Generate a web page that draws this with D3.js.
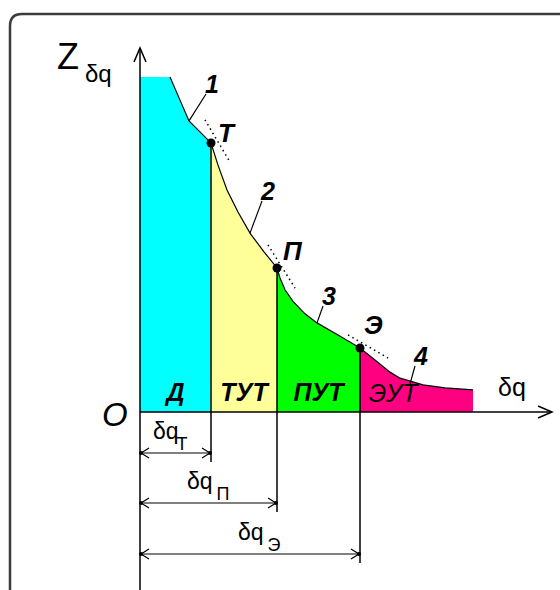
<!DOCTYPE html>
<html>
<head>
<meta charset="utf-8">
<script src="https://cdn.jsdelivr.net/npm/d3@7"></script>
<style>
  body { margin: 0; background: #fff; }
  text { font-family: "Liberation Sans", Arial, sans-serif; fill: #000; }
  .big { font-size: 25px; font-weight: bold; font-style: italic; }
</style>
</head>
<body>
<svg id="svg" width="560" height="590"></svg>
<script>
// curve of Z(dq) (dq 0..100, Z 0..100)
const qPts = [0, 7.5, 10, 12.25, 15, 17.75, 19.5, 21.75, 24.5, 27.5, 31, 34.25,
  35, 36.25, 38.25, 41.25, 44.25, 49.5, 55, 58.75, 62.5, 65, 70.75, 76.25, 83.25];
const zPts = [100, 100, 93.1, 86.9, 83.6, 80.3, 73.7, 66.3, 59.7, 53.4, 47.8, 43.0,
  40.0, 36.5, 33.0, 29.3, 26.6, 23.0, 19.1, 15.5, 11.9, 10.1, 8.1, 7.2, 6.6];

// zone borders: Д | ТУТ | ПУТ | ЭУТ
const zoneBounds = [0, 17.75, 34.25, 55, 83.25];
const zoneNames = ['Д', 'ТУТ', 'ПУТ', 'ЭУТ'];
const zoneColors = ['#00ffff', '#ffff99', '#00ff00', '#ff0080'];

// points T, П, Э
const pointNames = ['Т', 'П', 'Э'];
const pointQ = [17.75, 34.25, 55];
const pointZ = [80.3, 43.0, 19.1];

// dotted tangents near the points [q1, z1, q2, z2]
const tangents = [[16.25, 87.2, 22.5, 74.6], [32, 49.9, 38.75, 37.0], [52, 23.0, 62, 16.1]];
// curve segment numbers and the point each leader starts at
const segNames = ['1', '2', '3', '4'];
const segQ = [12.25, 27.5, 44.25, 67.5];
const segZ = [86.9, 53.4, 26.6, 8.4];

const svg = d3.select('#svg');
const x = d3.scaleLinear().domain([0, 100]).range([140, 540]);
const y = d3.scaleLinear().domain([0, 100]).range([412, 77]);

const data = qPts.map((q, i) => ({ q: q, z: zPts[i] }));

// frame with rounded corner
svg.append('path')
  .attr('d', 'M10,590 L10,26 Q10,14 22,14 L562,14')
  .attr('fill', 'none').attr('stroke', '#3c3c3c').attr('stroke-width', 2.5);

// zone fills
const area = d3.area().x(d => x(d.q)).y0(y(0)).y1(d => y(d.z));
const zAt = q => {
  const i = d3.bisectLeft(qPts, q);
  if (qPts[i] === q) return zPts[i];
  const t = (q - qPts[i - 1]) / (qPts[i] - qPts[i - 1]);
  return zPts[i - 1] + t * (zPts[i] - zPts[i - 1]);
};
zoneNames.forEach((n, i) => {
  const a = zoneBounds[i], b = zoneBounds[i + 1];
  const pts = [{ q: a, z: zAt(a) }].concat(data.filter(d => d.q > a && d.q < b), [{ q: b, z: zAt(b) }]);
  svg.append('path').attr('d', area(pts)).attr('fill', zoneColors[i]);
});

// curve (not over the flat top)
const line = d3.line().x(d => x(d.q)).y(d => y(d.z));
svg.append('path').attr('d', line(data.slice(1)))
  .attr('fill', 'none').attr('stroke', '#000').attr('stroke-width', 1.2);

// dotted tangents
tangents.forEach(t => {
  svg.append('line')
    .attr('x1', x(t[0])).attr('y1', y(t[1])).attr('x2', x(t[2])).attr('y2', y(t[3]))
    .attr('stroke', '#000').attr('stroke-width', 1.5).attr('stroke-dasharray', '1.5,3.5');
});

// axes
svg.append('line').attr('x1', x(0)).attr('x2', x(0)).attr('y1', 48).attr('y2', 590)
  .attr('stroke', '#000').attr('stroke-width', 1.5);
svg.append('line').attr('x1', x(0)).attr('x2', 552).attr('y1', y(0)).attr('y2', y(0))
  .attr('stroke', '#000').attr('stroke-width', 1.5);
svg.append('path').attr('d', `M${x(0) - 6},62 L${x(0)},48 L${x(0) + 6},62`)
  .attr('fill', 'none').attr('stroke', '#000').attr('stroke-width', 1.5);
svg.append('path').attr('d', `M538,${y(0) - 6} L552,${y(0)} L538,${y(0) + 6}`)
  .attr('fill', 'none').attr('stroke', '#000').attr('stroke-width', 1.5);

// dimension lines under the axis
const dimY = [453, 503, 554];
const dimSub = ['Т', 'П', 'Э'];
pointQ.forEach((q, i) => {
  const xe = x(q), yd = dimY[i];
  // vertical from curve down past the dimension line
  svg.append('line').attr('x1', xe).attr('x2', xe).attr('y1', y(pointZ[i])).attr('y2', yd + 9)
    .attr('stroke', '#000').attr('stroke-width', 1.5);
  svg.append('line').attr('x1', x(0)).attr('x2', xe).attr('y1', yd).attr('y2', yd)
    .attr('stroke', '#000').attr('stroke-width', 1.2);
  svg.append('path')
    .attr('d', `M${x(0) + 9},${yd - 5} L${x(0) + 1},${yd} L${x(0) + 9},${yd + 5}` +
      `M${xe - 9},${yd - 5} L${xe - 1},${yd} L${xe - 9},${yd + 5}`)
    .attr('fill', 'none').attr('stroke', '#000').attr('stroke-width', 1.2);
  svg.append('circle').attr('cx', x(0) + 1).attr('cy', yd).attr('r', 2);
  svg.append('circle').attr('cx', xe - 1).attr('cy', yd).attr('r', 2);
});
const dimLabelX = [153, 187, 238];
dimSub.forEach((s, i) => {
  const t = svg.append('text').attr('x', dimLabelX[i]).attr('y', dimY[i] - 14)
    .style('font-size', '23px');
  t.append('tspan').text('δq');
  t.append('tspan').attr('dx', i === 0 ? -2 : 4).attr('dy', 11).style('font-size', '18px').text(s);
});

// points
pointQ.forEach((q, i) => {
  svg.append('circle').attr('cx', x(q)).attr('cy', y(pointZ[i])).attr('r', 4.5).attr('fill', '#000');
});

// leaders and segment numbers
const segLabel = [[205, 93], [261, 200], [322, 305], [414, 365]];
segNames.forEach((s, i) => {
  const lx = segLabel[i][0], ly = segLabel[i][1];
  svg.append('line').attr('x1', x(segQ[i])).attr('y1', y(segZ[i]))
    .attr('x2', lx + 1).attr('y2', ly + 1)
    .attr('stroke', '#000').attr('stroke-width', 1.2);
  svg.append('text').attr('class', 'big').attr('x', lx).attr('y', ly).style('font-size', '25px').text(s);
});

const pointLabel = [[218, 142], [283, 260], [364, 334]];
pointNames.forEach((n, i) => {
  svg.append('text').attr('class', 'big').attr('x', pointLabel[i][0]).attr('y', pointLabel[i][1])
    .style('font-size', '26px').text(n);
});

// zone names
zoneNames.forEach((n, i) => {
  const cx = i === 3 ? 393 : x((zoneBounds[i] + zoneBounds[i + 1]) / 2);
  svg.append('text').attr('class', 'big').attr('x', cx).attr('y', i === 3 ? 402 : 401)
    .attr('text-anchor', 'middle')
    .style('font-weight', i === 3 ? 'normal' : 'bold')
    .text(n);
});

// axis titles
const zt = svg.append('text').attr('x', 57).attr('y', 69).style('font-size', '36px');
zt.append('tspan').text('Z');
zt.append('tspan').attr('dx', 6).attr('dy', 13).style('font-size', '24px').text('δq');
svg.append('text').attr('x', 498).attr('y', 396).style('font-size', '25px').text('δq');
svg.append('text').attr('x', 102).attr('y', 426).style('font-size', '33px').style('font-style', 'italic').text('O');
</script>
</body>
</html>
